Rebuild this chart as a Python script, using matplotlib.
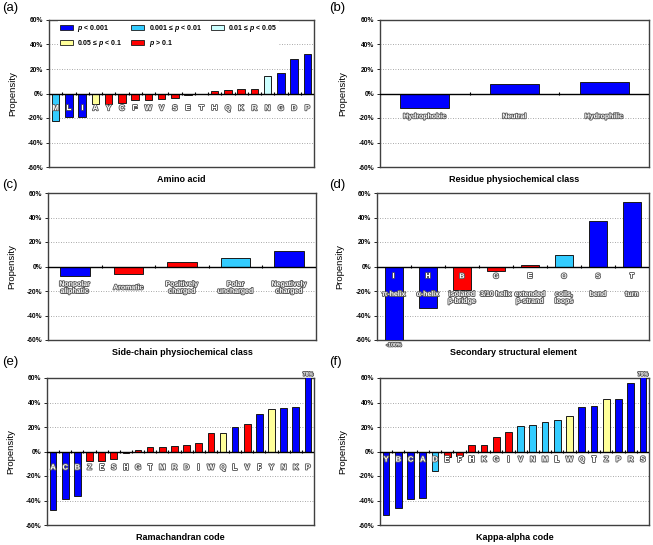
import numpy as np
import matplotlib.pyplot as plt
import matplotlib.patheffects as pe
from matplotlib.patches import Patch

plt.rcParams['font.family'] = ['Liberation Sans', 'DejaVu Sans']
plt.rcParams['font.weight'] = 'bold'
plt.rcParams['mathtext.fontset'] = 'custom'
plt.rcParams['mathtext.it'] = 'Liberation Sans:bold:italic'
plt.rcParams['mathtext.rm'] = 'Liberation Sans:bold'

# significance classes: 0 p<0.001, 1 0.001-0.01, 2 0.01-0.05, 3 0.05-0.1, 4 p>0.1
sig_names = [r'$p$ < 0.001', r'0.001 ≤ $p$ < 0.01', r'0.01 ≤ $p$ < 0.05',
             r'0.05 ≤ $p$ < 0.1', r'$p$ > 0.1']
sig_colors = ['#0000ff', '#33ccff', '#ccffff', '#ffff99', '#ff0000']

# (a) amino acid
a_labels = ['M', 'L', 'I', 'A', 'Y', 'C', 'F', 'W', 'V', 'S', 'E', 'T', 'H', 'Q', 'K', 'R', 'N', 'G', 'D', 'P']
a_vals = [-22.5, -19, -19, -8.6, -8.4, -8, -5, -5, -4.6, -3.8, -1, -0.3, 1.9, 3.2, 3.8, 4, 14, 17, 28, 32]
a_sig = [1, 0, 0, 3, 4, 4, 4, 4, 4, 4, 4, 4, 4, 4, 4, 4, 2, 0, 0, 0]

# (b) residue physiochemical class
b_labels = ['Hydrophobic', 'Neutral', 'Hydrophilic']
b_vals = [-12, 8, 9]
b_sig = [0, 0, 0]

# (c) side-chain physiochemical class
c_labels = ['Nonpolar\naliphatic', 'Aromatic', 'Positively\ncharged', 'Polar\nuncharged', 'Negatively\ncharged']
c_vals = [-7.8, -6.2, 3.8, 7.3, 12.7]
c_sig = [0, 4, 4, 1, 0]

# (d) secondary structural element
d_labels = ['I', 'H', 'B', 'G', 'E', 'O', 'S', 'T']
d_desc = ['π-helix', 'α-helix', 'isolated\nβ-bridge', '3/10 helix', 'extended\nβ-strand',
          'coils,\nloops', 'bend', 'turn']
d_vals = [-100, -33.5, -19.5, -3.5, 1.5, 9, 37.5, 53]
d_sig = [0, 0, 4, 4, 4, 1, 0, 0]

# (e) Ramachandran code
e_labels = ['A', 'C', 'B', 'Z', 'E', 'S', 'H', 'G', 'T', 'M', 'R', 'D', 'I', 'W', 'Q', 'L', 'V', 'F', 'Y', 'N', 'K', 'P']
e_vals = [-47.4, -39, -36, -8, -8, -6, -1.4, 1.4, 4, 4, 4.4, 5.5, 7, 15, 15.3, 19.7, 22.5, 31, 35, 35.6, 36, 78]
e_sig = [0, 0, 0, 4, 4, 4, 4, 4, 4, 4, 4, 4, 4, 4, 3, 0, 4, 0, 3, 0, 0, 0]

# (f) Kappa-alpha code
f_labels = ['Y', 'B', 'C', 'A', 'D', 'E', 'F', 'H', 'K', 'G', 'I', 'V', 'N', 'M', 'L', 'W', 'Q', 'T', 'Z', 'P', 'R', 'S']
f_vals = [-52, -46, -39, -37.6, -16, -4.3, -3.8, 4.9, 5.4, 12.2, 16, 20.8, 21.6, 24, 26, 29, 36, 37.3, 43.2, 43.2, 56, 79]
f_sig = [0, 0, 0, 0, 1, 4, 4, 4, 4, 4, 4, 1, 1, 1, 1, 3, 0, 0, 3, 0, 0, 0]

W, H = 653, 545
fig = plt.figure(figsize=(W / 100, H / 100), dpi=100)

outline = [pe.withStroke(linewidth=1.3, foreground='#5a5a5a')]


def make_ax(left, top, right, bottom):
    return fig.add_axes([left / W, 1 - bottom / H, (right - left) / W, (bottom - top) / H])


def panel(ax, labels, vals, sig, xlabel, lab_y, lab_fs=5.5, lab_va='center'):
    x = np.arange(len(vals))
    ax.bar(x, vals, width=0.55, color=[sig_colors[s] for s in sig],
           edgecolor='#1a1a1a', linewidth=0.7, zorder=3)
    ax.set_xlim(-0.5, len(vals) - 0.5)
    ax.set_ylim(-60, 60)
    ticks = np.arange(-60, 61, 20)
    ax.set_yticks(ticks)
    ax.set_yticklabels([f'{t}%' for t in ticks], fontsize=4.8)
    ax.tick_params(axis='y', length=2, width=0.6, pad=2)
    ax.set_xticks([])
    for t in (-40, -20, 20, 40):
        ax.axhline(t, color='#8c8c8c', lw=0.6, ls=(0, (1, 2)), zorder=1)
    ax.axhline(0, color='black', lw=1.0, zorder=4)
    ax.vlines(x[:-1] + 0.5, -1.3, 1.3, color='black', lw=0.8, zorder=4)
    for s in ax.spines.values():
        s.set_color('#404040')
        s.set_linewidth(1.0)
    for i, lab in enumerate(labels):
        ax.text(i, lab_y, lab, ha='center', va=lab_va, fontsize=lab_fs, color='white',
                path_effects=outline, zorder=5, linespacing=1.0)
    for i, v in enumerate(vals):
        if v > 60:
            ax.text(i, 61, f'{v:.0f}%', ha='center', va='bottom', fontsize=3.8,
                    color='white', path_effects=outline, clip_on=False)
        elif v < -60:
            ax.text(i, -62, f'{v:.0f}%', ha='center', va='top', fontsize=3.8,
                    color='white', path_effects=outline, clip_on=False)
    ax.text(0.5, -0.085, xlabel, transform=ax.transAxes, ha='center', va='center', fontsize=6.5)
    ax.set_ylabel('Propensity', fontsize=6.8)
    ax.yaxis.set_label_coords(-0.12, 0.5)


ax_a = make_ax(49, 20, 314, 167)
panel(ax_a, a_labels, a_vals, a_sig, 'Amino acid', -12.5)
order = [0, 3, 1, 4, 2]
handles = [Patch(facecolor=sig_colors[k], edgecolor='#1a1a1a', linewidth=0.6, label=sig_names[k]) for k in order]
leg = ax_a.legend(handles=handles, ncol=3, loc='upper left', bbox_to_anchor=(0.03, 1.0),
                  fontsize=5.0, frameon=True, fancybox=False, edgecolor='none', framealpha=1,
                  handlelength=1.9, handleheight=0.8, handletextpad=0.6, labelspacing=0.55,
                  columnspacing=1.3, borderpad=0.3, borderaxespad=0.1)
leg.set_zorder(6)

ax_b = make_ax(380, 20, 649, 167)
panel(ax_b, b_labels, b_vals, b_sig, 'Residue physiochemical class', -19, lab_fs=5)

ax_c = make_ax(48, 193, 316, 340)
panel(ax_c, c_labels, c_vals, c_sig, 'Side-chain physiochemical class', -17.5, lab_fs=5)

ax_d = make_ax(377, 193, 649, 340)
panel(ax_d, d_labels, d_vals, d_sig, 'Secondary structural element', -8.3, lab_fs=5)
for i, txt in enumerate(d_desc):
    ax_d.text(i, -20, txt, ha='center', va='top', fontsize=5, color='white',
              path_effects=outline, zorder=5, linespacing=1.0)

ax_e = make_ax(47, 378, 314, 525)
panel(ax_e, e_labels, e_vals, e_sig, 'Ramachandran code', -13.5)

ax_f = make_ax(380, 378, 649, 525)
panel(ax_f, f_labels, f_vals, f_sig, 'Kappa-alpha code', -7)

for lbl, px, py in [('(a)', 2, 8), ('(b)', 329, 8), ('(c)', 2, 185),
                    ('(d)', 329, 185), ('(e)', 2, 362), ('(f)', 329, 362)]:
    fig.text(px / W, 1 - py / H, lbl, ha='left', va='center', fontsize=9.5, fontweight='normal')

fig.savefig('out.png', dpi=100)
